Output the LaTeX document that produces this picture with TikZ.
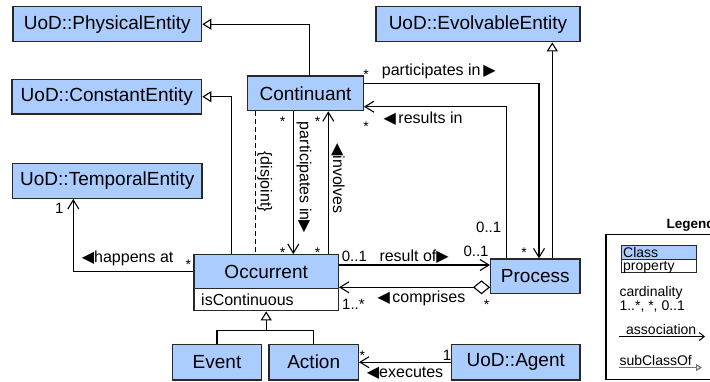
\documentclass[tikz,border=0pt]{standalone}
\usepackage{fontspec}
\setmainfont{Liberation Sans}
\newfontfamily\symfont{DejaVu Sans}
\usetikzlibrary{arrows.meta}
\definecolor{clsfill}{RGB}{170,204,255}
\definecolor{clsdraw}{RGB}{40,40,40}
\newcommand{\tl}{{\symfont\fontsize{16}{16}\selectfont ◀}}
\newcommand{\tr}{{\symfont\fontsize{16}{16}\selectfont ▶}}
\begin{document}
\begin{tikzpicture}[x=1pt,y=-1pt,
  cls/.style={draw=clsdraw, fill=clsfill, line width=1.3pt, inner sep=0pt, font=\fontsize{19}{21}\selectfont},
  attr/.style={draw=clsdraw, fill=white, line width=1.3pt, inner sep=0pt},
  conn/.style={line width=1.1pt, draw=black},
  assoc/.style={conn, -{Straight Barb[length=9pt,width=11pt]}},
  gen/.style={conn, -{Triangle[open,length=9pt,width=11pt,fill=white]}},
  lbl/.style={inner sep=0pt, anchor=base west, font=\fontsize{16}{18}\selectfont},
  mult/.style={inner sep=0pt, anchor=base west, font=\fontsize{15}{17}\selectfont},
  star/.style={inner sep=0pt, anchor=base, font=\fontsize{14}{16}\selectfont},
  leg/.style={inner sep=0pt, anchor=base west, font=\fontsize{14}{16}\selectfont},
  vlbl/.style={inner sep=0pt, rotate=-90, font=\fontsize{16}{18}\selectfont}
]
\useasboundingbox (0,0) rectangle (710,381);

% classes
\node[cls, minimum width=188.7pt, minimum height=35pt] (phys) at (107.3,24.2) {UoD::PhysicalEntity};
\node[cls, minimum width=189.7pt, minimum height=34.7pt] (const) at (106.8,96.7) {UoD::ConstantEntity};
\node[cls, minimum width=189.3pt, minimum height=35pt] (temp) at (107.3,180.8) {UoD::TemporalEntity};
\node[cls, minimum width=115.6pt, minimum height=34.7pt] (cont) at (305.5,93.3) {Continuant};
\node[cls, minimum width=204pt, minimum height=35pt] (evol) at (478,24.2) {UoD::EvolvableEntity};
\node[cls, minimum width=144.3pt, minimum height=33.6pt] (occ) at (266.2,271.5) {Occurrent};
\node[attr, minimum width=144.3pt, minimum height=22.4pt] (occattr) at (266.2,299.5) {};
\node[lbl] (occattrtext) at (201,305) {isContinuous};
\node[cls, minimum width=89.4pt, minimum height=35.7pt] (event) at (217,362.2) {Event};
\node[cls, minimum width=89.3pt, minimum height=35.7pt] (action) at (313.7,362.2) {Action};
\node[cls, minimum width=89.3pt, minimum height=34.3pt] (process) at (535.3,276.2) {Process};
\node[cls, minimum width=128.3pt, minimum height=35.7pt] (agent) at (515.8,362.2) {UoD::Agent};

% generalizations
\draw[gen] ([xshift=3.8pt]cont.north) |- (phys.east);
\draw[gen] ([xshift=-34.5pt]occ.north) |- (const.east);
\draw[gen] ([xshift=17pt]process.north) -- ([xshift=17pt]process.north |- evol.south);
\coordinate (bus) at (266.2,330.7);
\draw[conn] (event.north) |- (bus) -| (action.north);
\draw[gen] (bus) -- (occattr.south);

% associations
\draw[assoc] (occ.west) -| ([xshift=-34pt]temp.south);
\draw[conn, dash pattern=on 5pt off 3pt] ([xshift=-49.8pt]cont.south) -- ([xshift=-49.8pt]cont.south |- occ.north);
\draw[assoc] ([xshift=-12.2pt]cont.south) -- ([xshift=-12.2pt]cont.south |- occ.north);
\draw[assoc] ([xshift=22.8pt]cont.south |- occ.north) -- ([xshift=22.8pt]cont.south);
\draw[assoc] ([yshift=10pt]cont.east) -| ([xshift=3.7pt]process.north);
\draw[assoc] ([xshift=-28.6pt]process.north) |- ([yshift=-13.4pt]cont.east);
\draw[assoc] ([yshift=6.5pt]occ.east) -- ([yshift=6.5pt]occ.east -| process.west);
\draw[conn, {Diamond[open,length=17pt,width=14pt,fill=white]}-{Straight Barb[length=9pt,width=11pt]}] ([yshift=-15.8pt]occ.east -| process.west) -- ([yshift=-15.8pt]occ.east);
\draw[assoc] (agent.west) -- (action.east);

% labels
\node[lbl] (l1) at (381.7,75.5) {participates in\,\tr};
\node[lbl] (l2) at (383.3,123.5) {\tl\,results in};
\node[lbl] (l3) at (81.7,262) {\tl happens at};
\node[lbl] (l4) at (379.3,261.5) {result of\tr};
\node[lbl] (l5) at (377.3,302) {\tl\,comprises};
\node[lbl] (l6) at (366.7,377.5) {\tl executes};
\node[vlbl] (l7) at (264.7,181.7) {\{disjoint\}};
\node[vlbl] (l8) at (304,177.5) {participates in\tr};
\node[vlbl] (l9) at (338,178.3) {\tl involves};

% multiplicities
\node[mult] (m1) at (476,232.3) {0..1};
\node[mult] (m2) at (463.3,256.5) {0..1};
\node[mult] (m3) at (341.7,261.5) {0..1};
\node[mult] (m4) at (342,309.3) {1..*};
\node[mult] (m5) at (55,213.3) {1};
\node[mult] (m6) at (442.7,360) {1};
\node[star] (s1) at (366,79) {*};
\node[star] (s2) at (366,131) {*};
\node[star] (s3) at (524,257) {*};
\node[star] (s4) at (282.7,126) {*};
\node[star] (s5) at (317.7,126) {*};
\node[star] (s6) at (282.7,257) {*};
\node[star] (s7) at (317.7,257) {*};
\node[star] (s8) at (188.3,269.7) {*};
\node[star] (s9) at (486.7,309) {*};
\node[star] (s10) at (362.3,360) {*};

% legend
\node[draw=black, line width=1.2pt, minimum width=134pt, minimum height=145.2pt, inner sep=0pt] (legend) at (673,306.9) {};
\node[leg, font=\fontsize{13.5}{16}\selectfont\bfseries] (legtitle) at (666.5,228) {Legend};
\node[draw=clsdraw, fill=clsfill, line width=1pt, minimum width=74.3pt, minimum height=13.6pt, inner sep=0pt] (legcls) at (658.9,252.5) {};
\node[draw=clsdraw, fill=white, line width=1pt, minimum width=74.3pt, minimum height=13.4pt, inner sep=0pt] (legprop) at (658.9,266) {};
\node[leg] (legclst) at (623,257) {Class};
\node[leg] (legpropt) at (623,270.5) {property};
\node[leg] (legcard) at (619.3,296.5) {cardinality};
\node[leg] (legcardv) at (619.3,310.5) {1..*, *, 0..1};
\node[leg] (legassoc) at (626,334.5) {association};
\coordinate (ala) at (619.3,336.5);
\coordinate (alb) at (705,336.5);
\draw[line width=1pt, -{Straight Barb[length=5pt,width=8pt]}] (ala) -- (alb);
\node[leg] (legsub) at (619.3,365.5) {subClassOf};
\coordinate (sla) at (619.3,367.5);
\coordinate (slb) at (702,367.5);
\draw[line width=1.2pt, draw=black!55, -{Triangle[open,length=6pt,width=7pt,fill=white]}] (sla) -- (slb);
\end{tikzpicture}
\end{document}
